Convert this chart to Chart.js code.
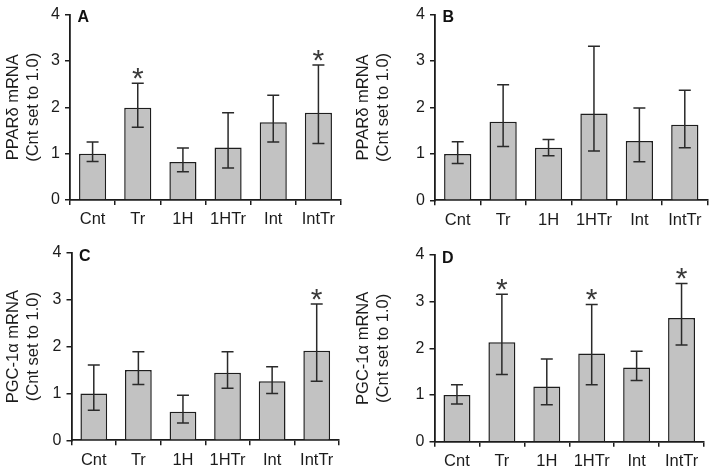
<!DOCTYPE html>
<html>
<head>
<meta charset="utf-8">
<script src="https://cdn.jsdelivr.net/npm/chart.js@4.4.1/dist/chart.umd.min.js"></script>
<style>
  html, body { margin: 0; padding: 0; background: #fff; }
  #wrap { position: relative; width: 709px; height: 472px; overflow: hidden; }
  #wrap canvas { position: absolute; }
</style>
</head>
<body>
<div id="wrap">
  <canvas id="cA" width="350" height="236" style="left:0px;top:0px"></canvas>
  <canvas id="cB" width="364" height="236" style="left:345px;top:0px"></canvas>
  <canvas id="cC" width="350" height="236" style="left:0px;top:236px"></canvas>
  <canvas id="cD" width="364" height="236" style="left:345px;top:236px"></canvas>
</div>
<script>
const categories = ['Cnt', 'Tr', '1H', '1HTr', 'Int', 'IntTr'];
const yTicks = [0, 1, 2, 3, 4];

// A: PPARd
const aMean = [1.00, 1.99, 0.82, 1.13, 1.68, 1.88];
const aLow  = [0.83, 1.57, 0.61, 0.69, 1.25, 1.22];
const aHigh = [1.25, 2.52, 1.12, 1.88, 2.26, 2.91];
const aStars = ['Tr', 'IntTr'];

// B: PPARd
const bMean = [1.00, 1.69, 1.13, 1.87, 1.28, 1.63];
const bLow  = [0.79, 1.16, 0.96, 1.06, 0.83, 1.13];
const bHigh = [1.26, 2.49, 1.31, 3.32, 1.99, 2.37];
const bStars = [];

// C: PGC-1a
const cMean = [1.00, 1.50, 0.61, 1.44, 1.26, 1.91];
const cLow  = [0.64, 1.19, 0.37, 1.11, 1.00, 1.26];
const cHigh = [1.61, 1.89, 0.96, 1.89, 1.57, 2.91];
const cStars = ['IntTr'];

// D: PGC-1a
const dMean = [1.00, 2.13, 1.18, 1.89, 1.59, 2.65];
const dLow  = [0.81, 1.44, 0.79, 1.22, 1.31, 2.07];
const dHigh = [1.22, 3.16, 1.77, 2.94, 1.94, 3.39];
const dStars = ['Tr', '1HTr', 'IntTr'];

const pparTitle = ['PPARδ mRNA', '(Cnt set to 1.0)'];
const pgcTitle = ['PGC-1α mRNA', '(Cnt set to 1.0)'];

const FONT = '"Liberation Sans", Arial, Helvetica, sans-serif';
const INK = '#1c1c1c';
Chart.defaults.font.family = FONT;
Chart.defaults.color = INK;

// layout of each panel on the page (canvas box and wanted plot area)
const panels = [
  { el: 'cA', letter: 'A', w: 350, h: 236, padLeft: 0, area: { left: 70, right: 341, top: 12, bottom: 200 },
    title: pparTitle, mean: aMean, low: aLow, high: aHigh, stars: aStars },
  { el: 'cB', letter: 'B', w: 364, h: 236, padLeft: 5, area: { left: 90, right: 362.5, top: 12.7, bottom: 200.3 },
    title: pparTitle, mean: bMean, low: bLow, high: bHigh, stars: bStars },
  { el: 'cC', letter: 'C', w: 350, h: 236, padLeft: 0, area: { left: 71.5, right: 339, top: 17, bottom: 204.3 },
    title: pgcTitle, mean: cMean, low: cLow, high: cHigh, stars: cStars },
  { el: 'cD', letter: 'D', w: 364, h: 236, padLeft: 5, area: { left: 89.5, right: 359, top: 19, bottom: 205.7 },
    title: pgcTitle, mean: dMean, low: dLow, high: dHigh, stars: dStars }
];

function overlay(p) {
  return {
    id: 'overlay' + p.letter,
    afterDatasetsDraw(chart) {
      const ctx = chart.ctx;
      const meta = chart.getDatasetMeta(0);
      const y = chart.scales.y;
      const cap = 6;
      ctx.save();
      ctx.strokeStyle = '#2a2a2a';
      ctx.lineWidth = 1.5;
      meta.data.forEach((bar, i) => {
        const x = bar.x;
        const yl = y.getPixelForValue(p.low[i]);
        const yh = y.getPixelForValue(p.high[i]);
        ctx.beginPath();
        ctx.moveTo(x, yl); ctx.lineTo(x, yh);
        ctx.moveTo(x - cap, yl); ctx.lineTo(x + cap, yl);
        ctx.moveTo(x - cap, yh); ctx.lineTo(x + cap, yh);
        ctx.stroke();
        if (p.stars.includes(categories[i])) {
          ctx.font = '30px ' + FONT;
          ctx.fillStyle = '#3a3a3a';
          ctx.textAlign = 'center';
          ctx.textBaseline = 'alphabetic';
          const m = ctx.measureText('*');
          const cy = yh - 10;
          ctx.fillText('*', x, cy + (m.actualBoundingBoxAscent - m.actualBoundingBoxDescent) / 2);
        }
      });
      // panel letter
      const a = chart.chartArea;
      ctx.font = 'bold 16px ' + FONT;
      ctx.fillStyle = '#111';
      ctx.textAlign = 'left';
      ctx.textBaseline = 'alphabetic';
      ctx.fillText(p.letter, a.left + 7.5, a.top + 7.5);
      ctx.restore();
    }
  };
}

panels.forEach(p => {
  new Chart(document.getElementById(p.el), {
    type: 'bar',
    data: {
      labels: categories,
      datasets: [{
        data: p.mean,
        backgroundColor: '#c2c2c2',
        borderColor: '#1e1e1e',
        borderWidth: 1.5,
        categoryPercentage: 1.0,
        barPercentage: 0.6
      }]
    },
    options: {
      responsive: false,
      animation: false,
      devicePixelRatio: 1,
      layout: { padding: { left: p.padLeft, top: p.area.top, right: p.w - p.area.right, bottom: 0 } },
      plugins: { legend: { display: false }, tooltip: { enabled: false } },
      scales: {
        x: {
          afterFit: s => { s.height = p.h - p.area.bottom; },
          grid: { offset: true, drawOnChartArea: false, drawTicks: true, tickLength: 5, color: INK, lineWidth: 1.5 },
          border: { color: INK, width: 1.8 },
          ticks: { font: { size: 16.5 }, padding: 5, color: INK }
        },
        y: {
          min: 0, max: 4,
          afterFit: s => { s.width = p.area.left - p.padLeft; },
          afterBuildTicks: s => { s.ticks = yTicks.map(v => ({ value: v })); },
          grid: { drawOnChartArea: false, drawTicks: true, tickLength: 5, color: INK, lineWidth: 1.5 },
          border: { color: INK, width: 1.8 },
          ticks: { font: { size: 16 }, padding: 5, color: INK },
          title: { display: true, text: p.title, font: { size: 16.5, lineHeight: 1.2 }, padding: { top: 3.5, bottom: 0 }, color: INK }
        }
      }
    },
    plugins: [overlay(p)]
  });
});
</script>
</body>
</html>
